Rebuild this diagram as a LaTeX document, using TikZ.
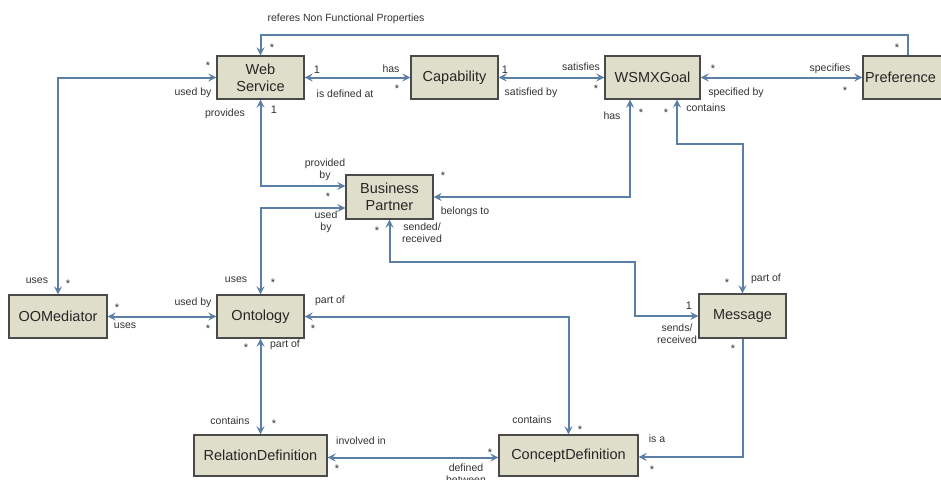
\documentclass[tikz,border=0pt]{standalone}
\usepackage{fontspec}
\setmainfont{Liberation Sans}
\usetikzlibrary{arrows.meta}
\definecolor{boxfill}{HTML}{DEDECB}
\definecolor{boxline}{HTML}{4A4A4A}
\definecolor{conn}{HTML}{5B7FA6}
\definecolor{lbl}{HTML}{333333}
\begin{document}
\begin{tikzpicture}[x=1pt,y=-1pt,
  entity/.style={draw=boxline, line width=1.4pt, fill=boxfill, inner sep=0pt,
    align=center, font=\fontsize{14.5}{17}\selectfont, text=black!85},
  link/.style={draw=conn, line width=2pt,
    arrows={-Stealth[length=8pt,width=8pt,inset=3pt]}},
  blink/.style={draw=conn, line width=2pt,
    arrows={Stealth[length=8pt,width=8pt,inset=3pt]-Stealth[length=8pt,width=8pt,inset=3pt]}},
  lab/.style={inner sep=0pt, font=\fontsize{10.5}{12}\selectfont, text=lbl, align=center},
  mult/.style={inner sep=0pt, font=\fontsize{11}{12}\selectfont, text=lbl}]
\useasboundingbox (0,0) rectangle (941,479);
\clip (0,0) rectangle (941,479);
\fill[white] (0,0) rectangle (941,479);

% entities
\node[entity, minimum width=87pt, minimum height=43pt] (ws) at (260.5,77.5) {Web\\Service};
\node[entity, minimum width=87pt, minimum height=43pt] (cap) at (454.5,77.5) {Capability};
\node[entity, minimum width=95pt, minimum height=43pt] (goal) at (652.5,77.5) {WSMXGoal};
\node[entity, minimum width=95pt, minimum height=43pt, text width=91pt, align=left] (pref) at (910.5,77.5) {Preference};
\node[entity, minimum width=87pt, minimum height=44pt] (bp) at (389.5,197) {Business\\Partner};
\node[entity, minimum width=98pt, minimum height=43pt] (oom) at (58,316.5) {OOMediator};
\node[entity, minimum width=87pt, minimum height=43pt] (ont) at (260.5,316.5) {Ontology};
\node[entity, minimum width=87pt, minimum height=44pt] (msg) at (742.5,316) {Message};
\node[entity, minimum width=133pt, minimum height=41pt] (rd) at (260.5,455.5) {RelationDefinition};
\node[entity, minimum width=139pt, minimum height=41pt] (cd) at (568.5,455.5) {ConceptDefinition};

% helper coordinates
\coordinate (topR) at (908,35);
\coordinate (bpBend) at (635,262);

% connectors
\draw[link] (pref.north -| topR) |- (ws.north |- topR) -- (ws.north);
\draw[blink] (ws.east) -- (cap.west);
\draw[blink] (cap.east) -- (goal.west);
\draw[blink] (goal.east) -- (pref.west);
\draw[blink] (ws.west) -| (oom.north);
\draw[blink] (ws.south) |- ([yshift=11pt]bp.west);
\draw[blink] (ont.north) |- ([yshift=-11pt]bp.west);
\draw[blink] ([xshift=-22.5pt]goal.south) |- (bp.east);
\draw[blink] ([xshift=24.5pt]goal.south) -- ++(0,44) -| (msg.north);
\draw[blink] (bp.south) |- (bpBend) |- (msg.west);
\draw[link] (msg.south) |- ([yshift=-1.5pt]cd.east);
\draw[blink] (oom.east) -- (ont.west);
\draw[blink] (ont.east) -| (cd.north);
\draw[blink] (ont.south) -- (rd.north);
\draw[blink] ([yshift=-2pt]rd.east) -- ([yshift=-2pt]cd.west);

% labels
\node[lab] (l1) at (346,19) {referes Non Functional Properties};
\node[mult] (m1) at (272,48) {*};
\node[mult] (m2) at (897,48) {*};
\node[mult] (m3) at (317,70) {1};
\node[lab] (l2) at (345,94) {is defined at};
\node[lab] (l3) at (391,69) {has};
\node[mult] (m4) at (397,89) {*};
\node[mult] (m5) at (505,70) {1};
\node[lab] (l4) at (531,93) {satisfied by};
\node[lab] (l5) at (581,67) {satisfies};
\node[mult] (m6) at (596,89) {*};
\node[mult] (m7) at (713,69) {*};
\node[lab] (l6) at (736,93) {specified by};
\node[lab] (l7) at (830,69) {specifies};
\node[mult] (m8) at (845,91) {*};
\node[mult] (m9) at (208,66) {*};
\node[lab] (l8) at (193,93) {used by};
\node[lab] (l9) at (37,281) {uses};
\node[mult] (m10) at (68,284) {*};
\node[lab] (l10) at (225,114) {provides};
\node[mult] (m11) at (274,110) {1};
\node[lab] (l11) at (325,170) {provided\\by};
\node[mult] (m12) at (328,197) {*};
\node[lab] (l12) at (326,222) {used\\by};
\node[lab] (l13) at (612,116) {has};
\node[mult] (m14) at (641,113) {*};
\node[mult] (m15) at (666,113) {*};
\node[lab] (l14) at (706,108) {contains};
\node[lab] (l15) at (465,212) {belongs to};
\node[mult] (m16) at (443,176) {*};
\node[lab] (l16) at (422,233) {sended/\\received};
\node[mult] (m17) at (377,231) {*};
\node[mult] (m18) at (689,306) {1};
\node[lab] (l17) at (677,334) {sends/\\received};
\node[lab] (l18) at (766,279) {part of};
\node[mult] (m19) at (727,283) {*};
\node[mult] (m20) at (733,349) {*};
\node[lab] (l19) at (657,439) {is a};
\node[mult] (m21) at (652,470) {*};
\node[lab] (l20) at (236,280) {uses};
\node[mult] (m22) at (273,283) {*};
\node[mult] (m23) at (117,308) {*};
\node[lab] (l21) at (125,326) {uses};
\node[lab] (l22) at (193,303) {used by};
\node[mult] (m24) at (208,329) {*};
\node[lab] (l23) at (330,301) {part of};
\node[mult] (m25) at (313,329) {*};
\node[lab] (l24) at (285,345) {part of};
\node[mult] (m26) at (246,348) {*};
\node[lab] (l25) at (230,421) {contains};
\node[mult] (m27) at (274,424) {*};
\node[lab] (l26) at (532,420) {contains};
\node[mult] (m28) at (580,430) {*};
\node[lab] (l27) at (361,441) {involved in};
\node[mult] (m29) at (337,469) {*};
\node[lab] (l28) at (466,474) {defined\\between};
\node[mult] (m30) at (490,453) {*};
\end{tikzpicture}
\end{document}
